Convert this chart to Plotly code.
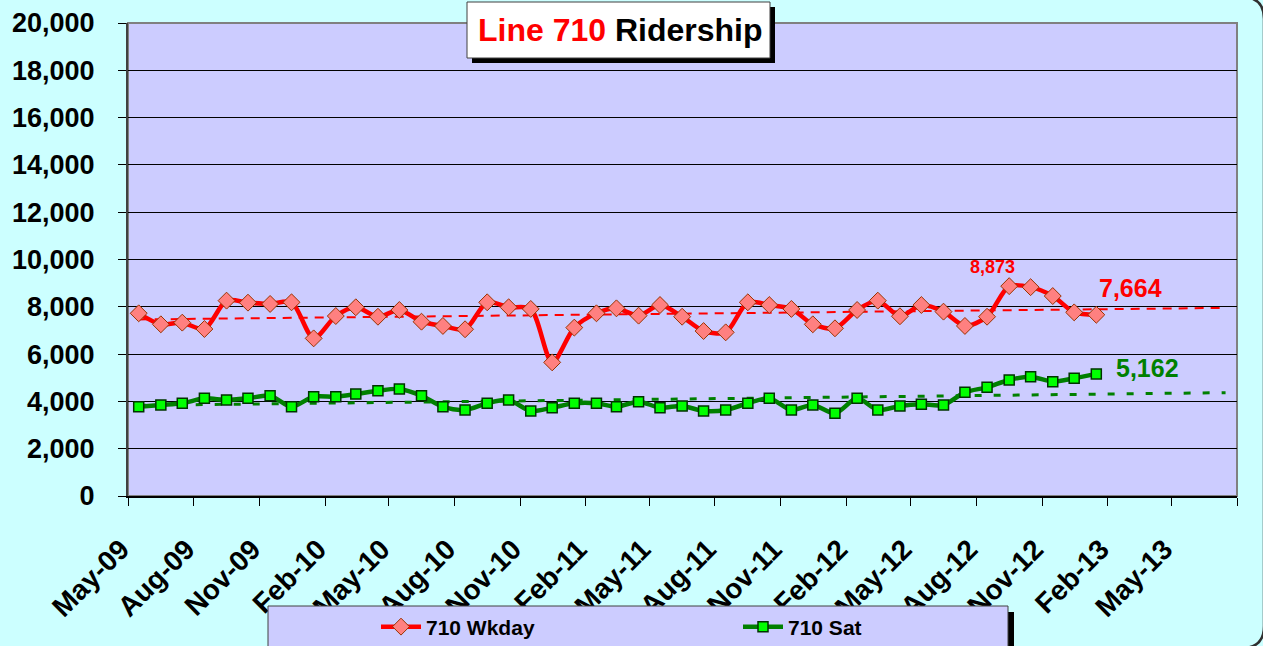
import numpy as np
import pandas as pd
import plotly.graph_objects as go

months = ["May-09", "Jun-09", "Jul-09", "Aug-09", "Sep-09", "Oct-09", "Nov-09", "Dec-09",
          "Jan-10", "Feb-10", "Mar-10", "Apr-10", "May-10", "Jun-10", "Jul-10", "Aug-10",
          "Sep-10", "Oct-10", "Nov-10", "Dec-10", "Jan-11", "Feb-11", "Mar-11", "Apr-11",
          "May-11", "Jun-11", "Jul-11", "Aug-11", "Sep-11", "Oct-11", "Nov-11", "Dec-11",
          "Jan-12", "Feb-12", "Mar-12", "Apr-12", "May-12", "Jun-12", "Jul-12", "Aug-12",
          "Sep-12", "Oct-12", "Nov-12", "Dec-12", "Jan-13"]

wkday = [7725, 7260, 7330, 7060, 8260, 8175, 8120, 8190, 6665, 7610,
         7980, 7580, 7865, 7370, 7190, 7050, 8190, 7980, 7910, 5650,
         7120, 7725, 7935, 7625, 8075, 7580, 6975, 6920, 8190, 8075,
         7910, 7260, 7090, 7865, 8260, 7600, 8075, 7795, 7190, 7580,
         8873, 8830, 8455, 7765, 7664]

sat = [3775, 3850, 3920, 4130, 4060, 4130, 4240, 3775, 4200, 4200,
       4310, 4450, 4525, 4240, 3775, 3635, 3920, 4060, 3595, 3735,
       3920, 3920, 3775, 3990, 3735, 3805, 3595, 3635, 3920, 4130,
       3635, 3850, 3495, 4130, 3635, 3805, 3875, 3850, 4385, 4595,
       4905, 5045, 4835, 4975, 5162]

x_tick_months = ["May-09", "Aug-09", "Nov-09", "Feb-10", "May-10", "Aug-10", "Nov-10",
                 "Feb-11", "May-11", "Aug-11", "Nov-11", "Feb-12", "May-12", "Aug-12",
                 "Nov-12", "Feb-13", "May-13", "Aug-13"]
x_tick_labels = x_tick_months[:-1] + [""]
y_ticks = [0, 2000, 4000, 6000, 8000, 10000, 12000, 14000, 16000, 18000, 20000]
forecast_months = 6

FONT = "Liberation Sans, Arial, sans-serif"
RED = "#FF0000"
GREEN = "#008000"

start = pd.to_datetime(months, format="%b-%y")
dates = start + pd.Timedelta(days=15)
tick_dates = pd.to_datetime(x_tick_months, format="%b-%y")

# linear trendlines (with forward forecast), as in the original spreadsheet chart
idx = np.arange(len(months))
trend_idx = np.array([0, len(months) - 1 + forecast_months])
trend_dates = [dates[0], (start[-1] + pd.DateOffset(months=forecast_months)) + pd.Timedelta(days=15)]
cw = np.polyfit(idx, wkday, 1)
cs = np.polyfit(idx, sat, 1)

fig = go.Figure()

fig.add_trace(go.Scatter(x=trend_dates, y=np.polyval(cw, trend_idx), mode="lines",
                         line=dict(color=RED, width=2, dash="9px,7px"),
                         showlegend=False, hoverinfo="skip"))
fig.add_trace(go.Scatter(x=trend_dates, y=np.polyval(cs, trend_idx), mode="lines",
                         line=dict(color=GREEN, width=3, dash="7px,12px"),
                         showlegend=False, hoverinfo="skip"))

fig.add_trace(go.Scatter(x=dates, y=wkday, name="710 Wkday", mode="lines+markers",
                         line=dict(color=RED, width=4.5, shape="spline", smoothing=0.8),
                         marker=dict(symbol="diamond", size=13, color="#FF8080",
                                     line=dict(color="#993300", width=1))))
fig.add_trace(go.Scatter(x=dates, y=sat, name="710 Sat", mode="lines+markers",
                         line=dict(color=GREEN, width=4.5, shape="spline", smoothing=0.8),
                         marker=dict(symbol="square", size=10, color="#00FF00",
                                     line=dict(color="#003300", width=1.5))))

# pixel -> paper helpers for decorations
W, H = 1263, 646
PL, PR, PT, PB = 128, 1237, 23, 496


def px(x):
    return (x - PL) / (PR - PL)


def py(y):
    return (PB - y) / (PB - PT)


shapes = [
    # plot area frame (top/right grey)
    dict(type="rect", xref="paper", yref="paper", x0=0, x1=1, y0=0, y1=1,
         line=dict(color="#808080", width=2), layer="below"),
    # title box shadow + box
    dict(type="rect", xref="paper", yref="paper", x0=px(472), x1=px(775), y0=py(63), y1=py(7),
         fillcolor="black", line=dict(width=0), layer="above"),
    dict(type="rect", xref="paper", yref="paper", x0=px(467), x1=px(770), y0=py(58), y1=py(2),
         fillcolor="white", line=dict(color="#404040", width=1), layer="above"),
    # legend box shadow + box
    dict(type="rect", xref="paper", yref="paper", x0=px(274), x1=px(1014), y0=py(670), y1=py(612),
         fillcolor="black", line=dict(width=0), layer="above"),
    dict(type="rect", xref="paper", yref="paper", x0=px(268), x1=px(1008), y0=py(664), y1=py(606),
         fillcolor="#CCCCFF", line=dict(color="#404040", width=1), layer="above"),
    # chart area rounded border (right side visible)
    dict(type="path", xref="paper", yref="paper",
         path=(f"M {px(1150)} {py(-3)} L {px(1242)} {py(-3)} Q {px(1264)} {py(-3)} {px(1264)} {py(19)} "
               f"L {px(1264)} {py(626)} Q {px(1264)} {py(648)} {px(1242)} {py(648)} L {px(1150)} {py(648)}"),
         line=dict(color="#303030", width=2.5), layer="above"),
]

annotations = [
    dict(xref="paper", yref="paper", x=px(620), y=py(30), showarrow=False,
         xanchor="center", yanchor="middle",
         text="<span style='color:#FF0000'>Line 710</span> Ridership",
         font=dict(family=FONT, size=32, color="black", weight="bold")),
    dict(x=dates[40], y=wkday[40], text=f"{wkday[40]:,}", showarrow=False,
         xanchor="center", yanchor="middle",
         xshift=-17, yshift=19, font=dict(family=FONT, size=18, color=RED, weight="bold")),
    dict(x=dates[-1], y=wkday[-1], text=f"{wkday[-1]:,}", showarrow=False,
         xanchor="left", yanchor="middle", xshift=1, yshift=27,
         font=dict(family=FONT, size=25, color=RED, weight="bold")),
    dict(x=dates[-1], y=sat[-1], text=f"{sat[-1]:,}", showarrow=False,
         xanchor="left", yanchor="middle", xshift=18, yshift=6,
         font=dict(family=FONT, size=25, color=GREEN, weight="bold")),
]

fig.update_layout(
    width=W, height=H,
    margin=dict(l=PL, r=W - PR, t=PT, b=H - PB, pad=0, autoexpand=False),
    paper_bgcolor="#CCFFFF", plot_bgcolor="#CCCCFF",
    font=dict(family=FONT, color="black"),
    shapes=shapes, annotations=annotations,
    showlegend=True,
    legend=dict(orientation="h", x=px(376), xanchor="left", y=py(627), yanchor="middle",
                bgcolor="rgba(0,0,0,0)", borderwidth=0, itemwidth=40,
                entrywidth=307, entrywidthmode="pixels",
                font=dict(family=FONT, size=21, color="black", weight="bold")),
)

fig.update_xaxes(type="date", range=["2009-05-01", "2013-08-01"],
                 tickmode="array", tickvals=tick_dates, ticktext=x_tick_labels, tickangle=-45,
                 ticks="outside", ticklen=8, tickcolor="black", tickwidth=1,
                 showgrid=False, showline=True, linecolor="black", linewidth=1.5,
                 zeroline=False, automargin=False,
                 ticklabelstandoff=16, ticklabelshift=-7,
                 tickfont=dict(family=FONT, size=28, color="black", weight="bold"))
fig.update_yaxes(range=[0, 20000], tickvals=y_ticks, tickformat=",d",
                 ticks="outside", ticklen=8, tickcolor="black", tickwidth=1,
                 showgrid=True, gridcolor="black", gridwidth=1,
                 showline=True, linecolor="#404040", linewidth=2, zeroline=False,
                 ticklabelstandoff=18, automargin=False,
                 tickfont=dict(family=FONT, size=27, color="black", weight="bold"))

fig.write_html("out.html", config={"displayModeBar": False},
               post_script="document.body.style.margin='0';")
